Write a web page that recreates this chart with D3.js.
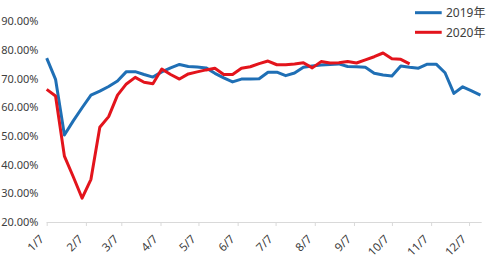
<!DOCTYPE html>
<html>
<head>
<meta charset="utf-8">
<script src="https://cdn.jsdelivr.net/npm/d3@7"></script>
<style>
body { margin: 0; background: #fff; }
text { font-family: "Noto Sans", "Noto Sans CJK SC", sans-serif; fill: #404040; }
</style>
</head>
<body>
<svg id="chart" width="496" height="273"></svg>
<script>
/* weekly data, year 2019 used only to place the dates on the axis */
var weeks = ["1/7","1/14","1/21","1/28","2/4","2/11","2/18","2/25","3/4","3/11","3/18","3/25",
	"4/1","4/8","4/15","4/22","4/29","5/6","5/13","5/20","5/27","6/3","6/10","6/17","6/24",
	"7/1","7/8","7/15","7/22","7/29","8/5","8/12","8/19","8/26","9/2","9/9","9/16","9/23","9/30",
	"10/7","10/14","10/21","10/28","11/4","11/11","11/18","11/25","12/2","12/9","12/16"];

var rate2019 = [77.2,69.8,50.4,55.3,59.9,64.3,65.7,67.3,69.2,72.5,72.5,71.5,
	70.6,72.4,73.8,75.0,74.3,74.1,73.8,71.9,70.3,68.9,69.9,69.9,70.0,
	72.3,72.3,71.1,72.0,74.0,74.5,74.8,75.0,75.2,74.3,74.2,74.0,71.9,71.3,
	71.0,74.5,74.0,73.7,75.1,75.1,72.1,64.9,67.2,65.8,64.3];

var rate2020 = [66.3,64.0,43.0,35.8,28.3,34.9,53.1,56.8,64.3,68.2,70.5,68.8,
	68.3,73.4,71.5,69.9,71.7,72.4,73.1,73.7,71.5,71.5,73.7,74.2,75.3,
	76.2,74.9,74.9,75.2,75.6,73.8,76.0,75.5,75.6,76.0,75.5,76.6,77.7,79.0,
	77.0,76.8,75.2];

var month_ticks = ["1/7","2/7","3/7","4/7","5/7","6/7","7/7","8/7","9/7","10/7","11/7","12/7"];
var y_ticks = [20, 30, 40, 50, 60, 70, 80, 90];

var series_names = ["2019年", "2020年"];
var series_colors = ["#1f6fb5", "#e3141c"];

function to_date(s){
	var p = s.split("/");
	return new Date(2019, +p[0]-1, +p[1]);
}

function draw(){
	var svg = d3.select("#chart");

	var x = d3.scaleTime()
		.domain([to_date("1/7"), to_date("12/17")])
		.range([46.7, 481.7]);
	var y = d3.scaleLinear()
		.domain([20, 90])
		.range([222, 21.5]);

	/* y labels, no gridlines */
	svg.append("g")
		.selectAll("text")
		.data(y_ticks)
		.enter().append("text")
		.attr("x", 38.5)
		.attr("y", function(d){ return y(d); })
		.attr("dy", "0.35em")
		.attr("text-anchor", "end")
		.style("font-size", "11px")
		.text(function(d){ return d.toFixed(2) + "%"; });

	/* x axis */
	var xa = svg.append("g").attr("transform", "translate(0," + y(20) + ")");
	xa.call(d3.axisBottom(x)
		.tickValues(month_ticks.map(to_date))
		.tickSize(4)
		.tickFormat(""));
	xa.select(".domain").attr("stroke", "#d9d9d9").attr("d", "M" + x.range()[0] + ",0.5H" + x.range()[1]);
	xa.selectAll(".tick line").attr("stroke", "#d9d9d9");

	svg.append("g")
		.selectAll("text")
		.data(month_ticks)
		.enter().append("text")
		.attr("transform", function(d){ return "translate(" + (x(to_date(d)) - 5) + ",237) rotate(-45)"; })
		.attr("dy", "0.35em")
		.attr("text-anchor", "end")
		.style("font-size", "11.5px")
		.text(function(d){ return d; });

	/* lines, 2020 on top */
	var line = d3.line()
		.x(function(d, i){ return x(to_date(weeks[i])); })
		.y(function(d){ return y(d); });

	[rate2019, rate2020].forEach(function(vals, k){
		svg.append("path")
			.datum(vals)
			.attr("d", line)
			.attr("fill", "none")
			.attr("stroke", series_colors[k])
			.attr("stroke-width", 3)
			.attr("stroke-linejoin", "round");
	});

	/* legend */
	for (var k = 0; k < series_names.length; k++){
		var ly = 12.7 + k*19.6;
		svg.append("line")
			.attr("x1", 415).attr("x2", 441.7)
			.attr("y1", ly).attr("y2", ly)
			.attr("stroke", series_colors[k])
			.attr("stroke-width", 3);
		svg.append("text")
			.attr("x", 446)
			.attr("y", ly)
			.attr("dy", "0.35em")
			.style("font-size", "12px")
			.text(series_names[k]);
	}
}

draw();
</script>
</body>
</html>
